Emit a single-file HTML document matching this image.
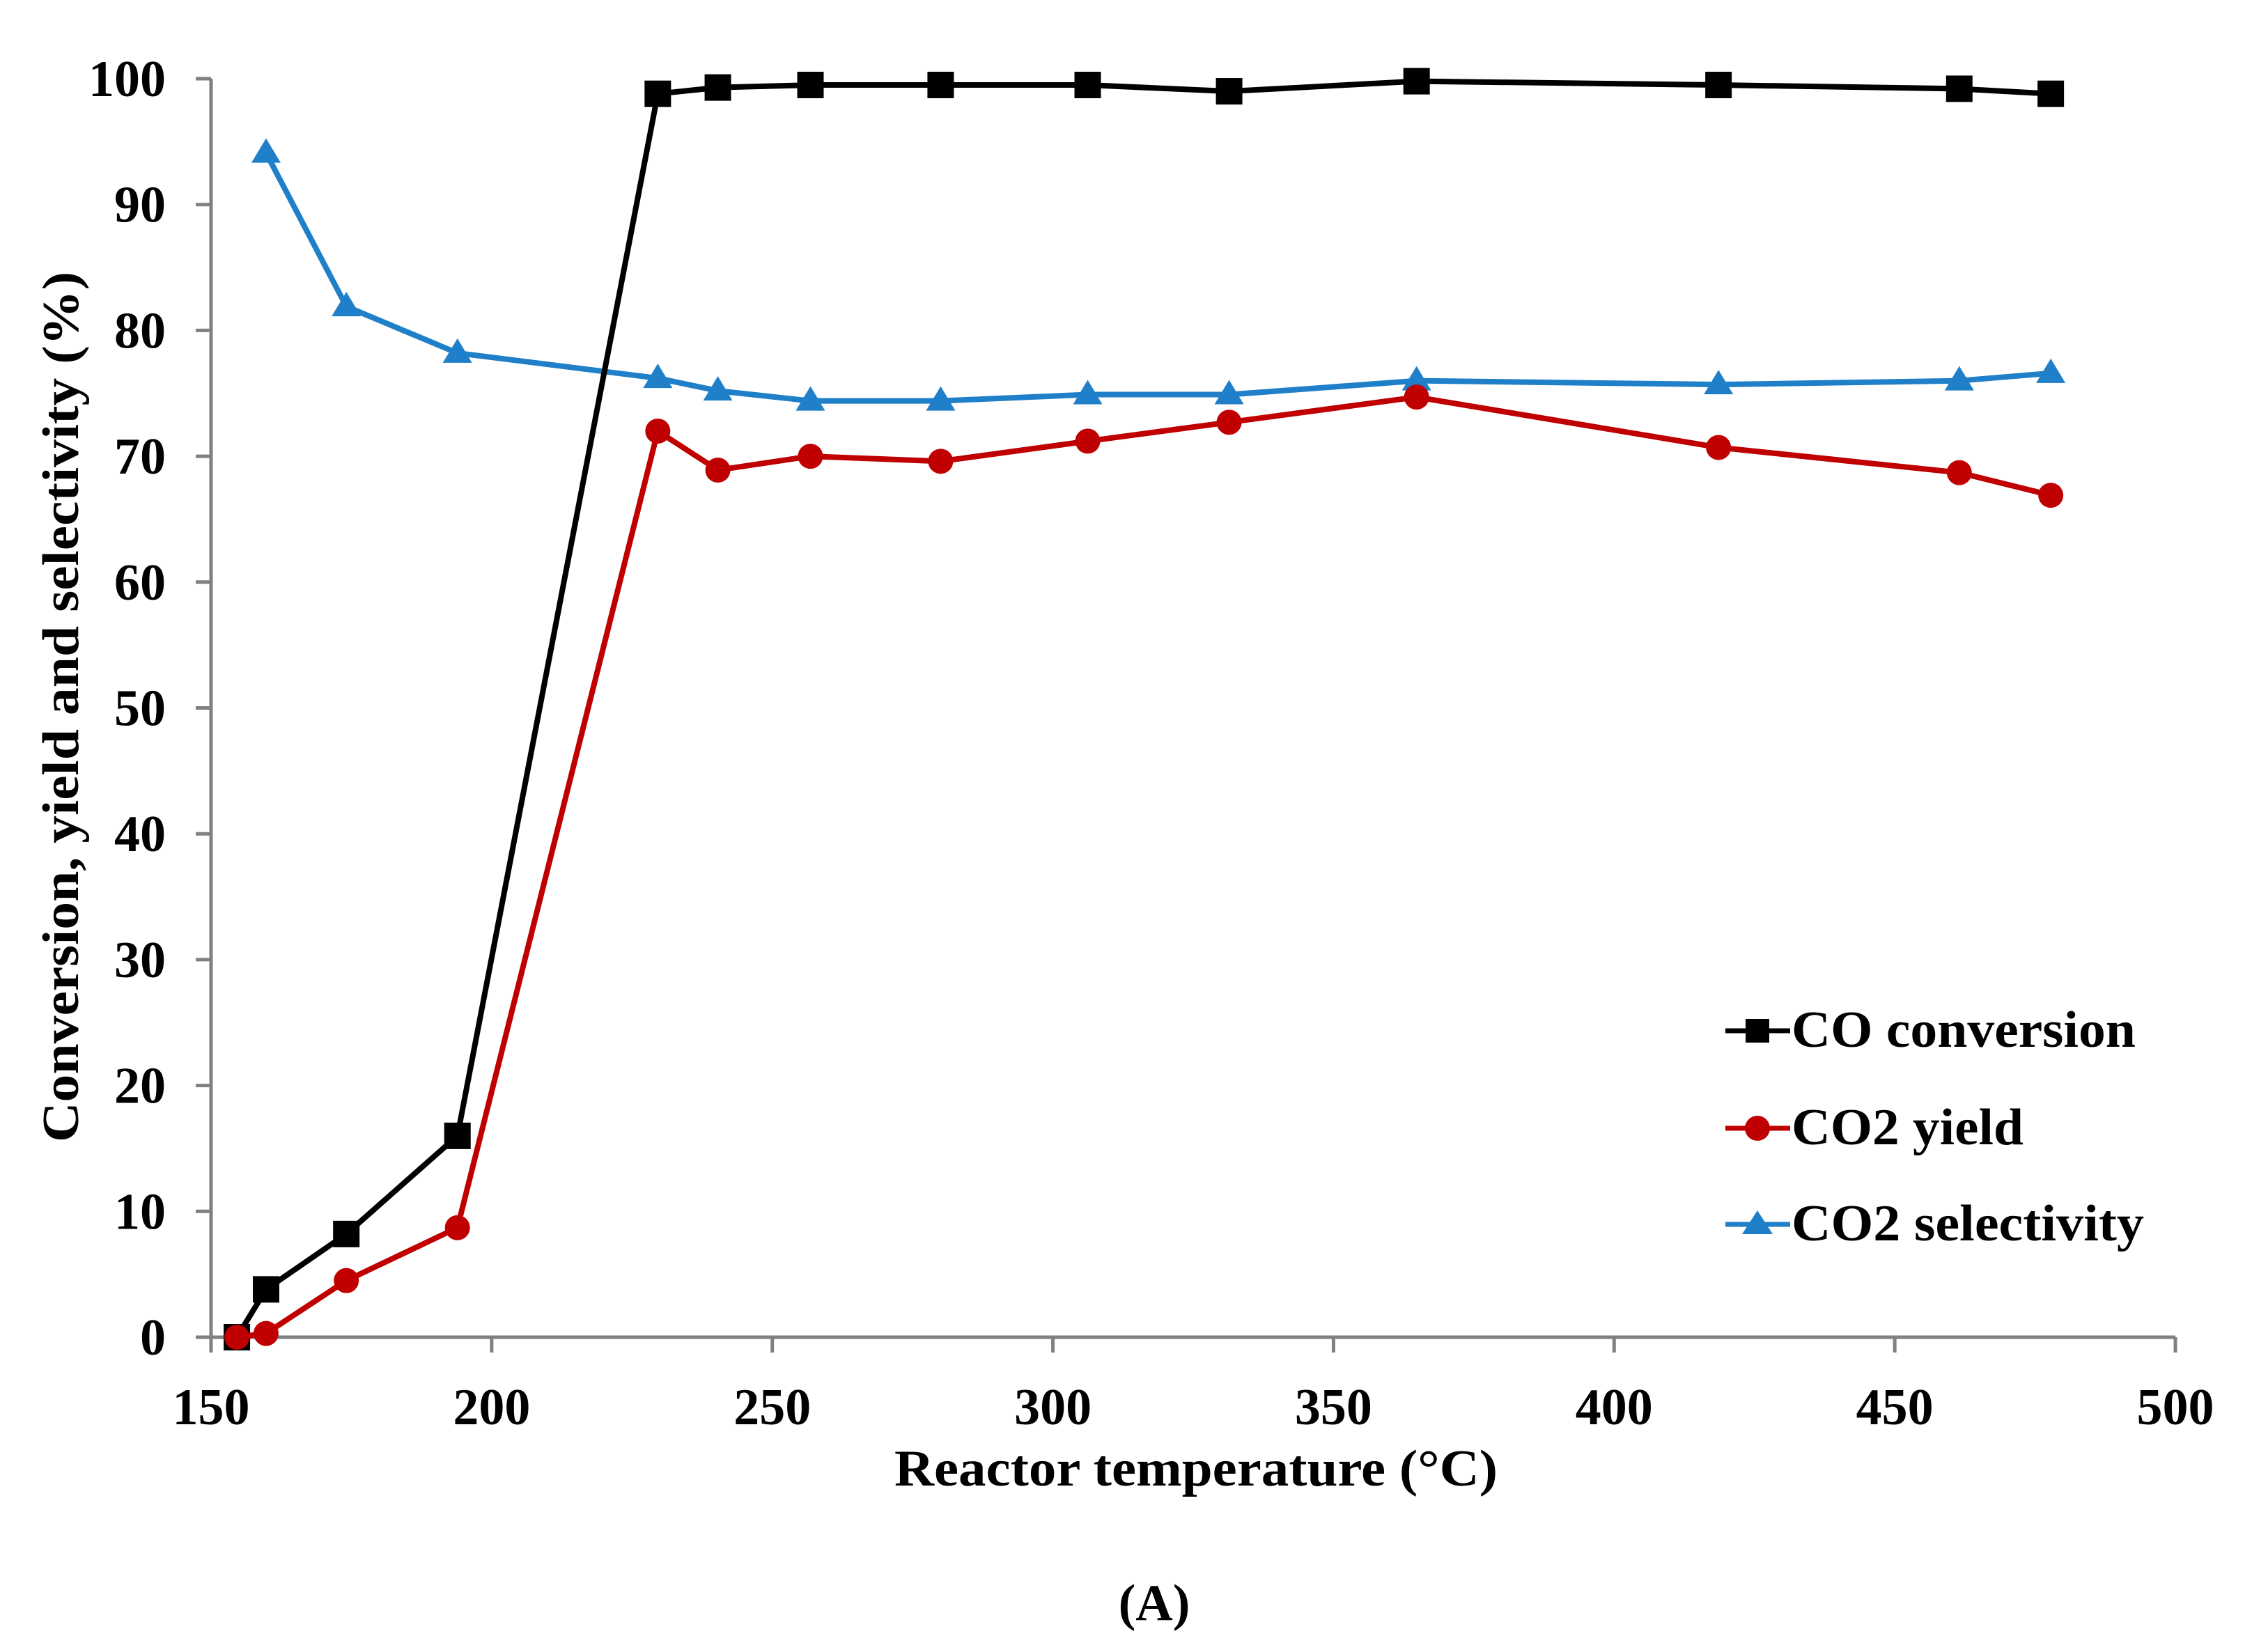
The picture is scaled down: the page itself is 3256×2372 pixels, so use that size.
<!DOCTYPE html>
<html><head><meta charset="utf-8"><style>html,body{margin:0;padding:0;background:#fff}svg{display:block}</style></head>
<body>
<svg id="chart" width="3256" height="2372" viewBox="0 0 3256 2372" xmlns="http://www.w3.org/2000/svg" font-family="'Liberation Serif', serif" font-weight="bold">
<rect width="3256" height="2372" fill="#fff"/>
<g id="grid"></g>
<g id="series"></g>
<text transform="translate(112,1015) rotate(-90)" text-anchor="middle" font-size="74" textLength="1250" lengthAdjust="spacingAndGlyphs">Conversion, yield and selectivity (%)</text>
<text x="1717" y="2133" text-anchor="middle" font-size="74" textLength="866" lengthAdjust="spacingAndGlyphs">Reactor temperature (°C)</text>
<text x="1657" y="2326" text-anchor="middle" font-size="74">(<tspan>A</tspan>)</text>
<g>
 <g>
  <line x1="2477" y1="1480" x2="2570" y2="1480" stroke="#000" stroke-width="7"/>
  <rect x="2506" y="1463" width="34" height="34" fill="#000"/>
  <text x="2572" y="1503" font-size="74" textLength="494" lengthAdjust="spacingAndGlyphs">CO conversion</text>
 </g>
 <g>
  <line x1="2477" y1="1620" x2="2570" y2="1620" stroke="#c00000" stroke-width="7"/>
  <circle cx="2523" cy="1620" r="18" fill="#c00000"/>
  <text x="2572" y="1643" font-size="74" textLength="333" lengthAdjust="spacingAndGlyphs">CO2 yield</text>
 </g>
 <g>
  <line x1="2477" y1="1758" x2="2570" y2="1758" stroke="#1f7fc8" stroke-width="7"/>
  <polygon points="2523,1738 2545,1772 2501,1772" fill="#1f7fc8"/>
  <text x="2572" y="1781" font-size="74" textLength="506" lengthAdjust="spacingAndGlyphs">CO2 selectivity</text>
 </g>
</g>
</svg>
<script>
const xTicks = [150,200,250,300,350,400,450,500];
const yTicks = [0,10,20,30,40,50,60,70,80,90,100];
const temps = [154.6,159.8,174.1,193.9,229.6,240.3,256.8,280.0,306.2,331.4,364.8,418.6,461.5,477.8];
const coConversion = [0,3.8,8.2,16,98.8,99.3,99.5,99.5,99.5,99,99.8,99.5,99.2,98.8];
const co2Yield = [0,0.3,4.5,8.7,72,68.9,70,69.6,71.2,72.7,74.7,70.7,68.7,66.9];
const selTemps = [159.8,174.1,193.9,229.6,240.3,256.8,280.0,306.2,331.4,364.8,418.6,461.5,477.8];
const co2Selectivity = [94.1,81.9,78.2,76.2,75.2,74.4,74.4,74.9,74.9,76,75.7,76,76.6];

const NS='http://www.w3.org/2000/svg';
const X0=303,X1=3123,Y0=1920,Y1=113;
function sx(v){return X0+(v-150)/(500-150)*(X1-X0);}
function sy(v){return Y0-(v-0)/(100-0)*(Y0-Y1);}
function mk(tag,attrs,parent){const e=document.createElementNS(NS,tag);for(const k in attrs)e.setAttribute(k,attrs[k]);parent.appendChild(e);return e;}
const grid=document.getElementById('grid');
const ser=document.getElementById('series');
let ax=mk('line',{x1:X0,y1:Y0,x2:X1,y2:Y0,stroke:'#808080','stroke-width':5},grid);


let ay=mk('line',{x1:X0,y1:Y0+15,x2:X0,y2:Y1,stroke:'#808080','stroke-width':5},grid);


xTicks.forEach(t=>{
  const x=sx(t);
  const l=mk('line',{x1:x,y1:Y0,x2:x,y2:Y0+22,stroke:'#808080','stroke-width':5},grid);
  
  
  const tx=mk('text',{x:x,y:2045,'text-anchor':'middle','font-size':74},grid);
  tx.textContent=t;
  
  
});
yTicks.forEach(t=>{
  const y=sy(t);
  const l=mk('line',{x1:X0-22,y1:y,x2:X0,y2:y,stroke:'#808080','stroke-width':5},grid);
  
  
  const tx=mk('text',{x:238,y:y+25,'text-anchor':'end','font-size':74},grid);
  tx.textContent=t;
  
  
});
function drawSeries(xs,ys,color,shape,name){
  const pts=xs.map((x,i)=>sx(x)+','+sy(ys[i])).join(' ');
  const pl=mk('polyline',{points:pts,fill:'none',stroke:color,'stroke-width':8,'stroke-linejoin':'round'},ser);
  
  
  xs.forEach((x,i)=>{
    const cx=sx(x),cy=sy(ys[i]);let m;
    if(shape==='square')m=mk('rect',{x:cx-19,y:cy-19,width:38,height:38,fill:color},ser);
    else if(shape==='circle')m=mk('circle',{cx:cx,cy:cy,r:18,fill:color},ser);
    else m=mk('polygon',{points:`${cx},${cy-21} ${cx+21},${cy+14} ${cx-21},${cy+14}`,fill:color},ser);
    
    
  });
}
drawSeries(selTemps,co2Selectivity,'#1f7fc8','triangle','co2-selectivity');
drawSeries(temps,coConversion,'#000000','square','co-conversion');
drawSeries(temps,co2Yield,'#c00000','circle','co2-yield');
</script>
</body></html>
